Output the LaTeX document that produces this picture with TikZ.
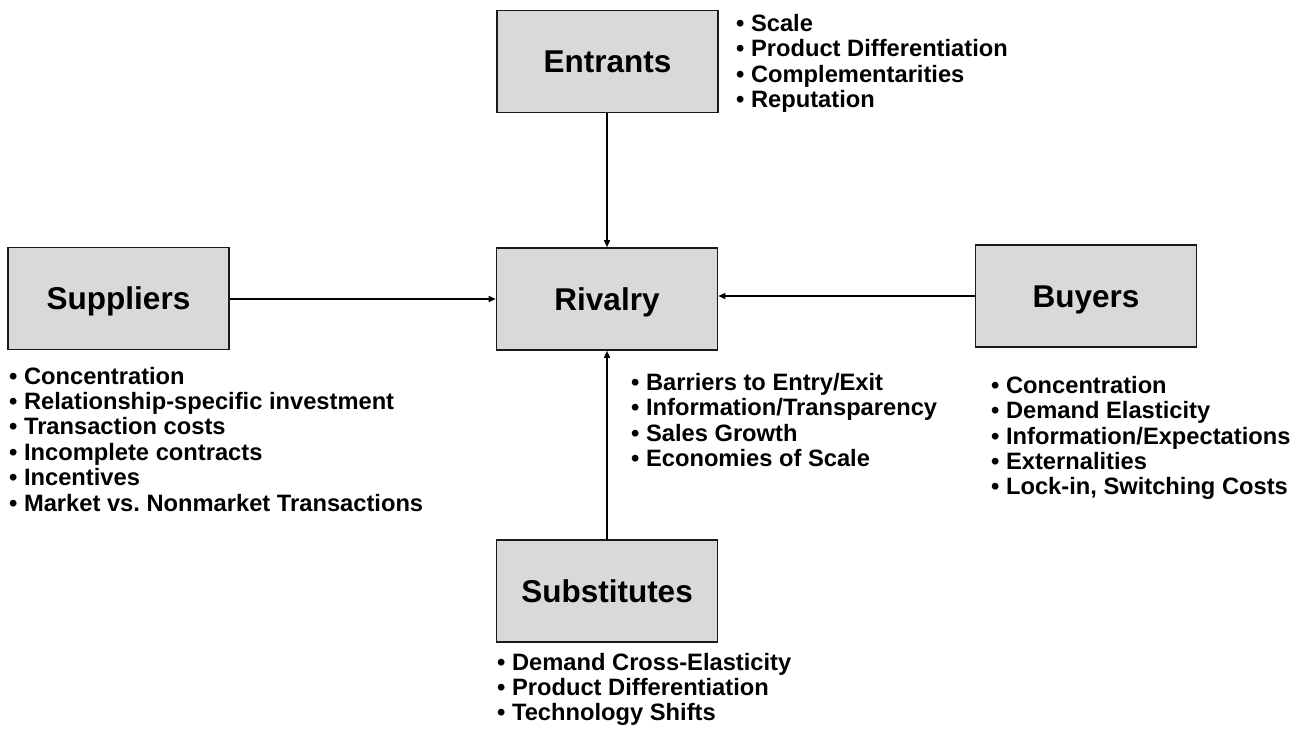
\documentclass[tikz,border=0pt]{standalone}
\usepackage{fontspec}
\setmainfont{Liberation Sans}
\usetikzlibrary{arrows.meta}
\definecolor{boxfill}{HTML}{D9D9D9}
\definecolor{boxline}{HTML}{1A1A1A}
\frenchspacing
\tikzset{
  force/.style={draw=boxline, line width=1.6pt, fill=boxfill, minimum width=221pt, minimum height=102pt, inner sep=0pt, text height=22.6pt, text depth=0pt, font=\fontsize{31.5}{34}\selectfont\bfseries},
  bullets/.style={anchor=base west, inner sep=0pt, align=left, font=\fontsize{23.7}{25.4}\selectfont\bfseries},
  link/.style={line width=1.5pt, -{Triangle[length=7pt,width=6pt]}}
}
\begin{document}
\begin{tikzpicture}[x=1pt,y=-1pt]
\useasboundingbox (0,0) rectangle (1306,731);
\node[force] (entrants) at (607.5,61.5) {Entrants};
\node[force] (rivalry) at (607,299) {Rivalry};
\node[force] (suppliers) at (118.5,298.5) {Suppliers};
\node[force] (buyers) at (1086,296) {Buyers};
\node[force] (substitutes) at (607,591) {Substitutes};

\draw[link] (entrants.south -| rivalry.north) -- (rivalry.north);
\draw[link] (suppliers.east |- rivalry.west) -- (rivalry.west);
\draw[link] (buyers.west) -- (buyers.west -| rivalry.east);
\draw[link] (substitutes.north) -- (rivalry.south);

% anchors are at the baseline of each list's last line
\node[bullets] (entrantslist) at (736,107.5) {• Scale\\• Product Differentiation\\• Complementarities\\• Reputation};
\node[bullets] (supplierslist) at (9,511) {• Concentration\\• Relationship-specific investment\\• Transaction costs\\• Incomplete contracts\\• Incentives\\• Market vs. Nonmarket Transactions};
\node[bullets] (rivalrylist) at (631,466.7) {• Barriers to Entry/Exit\\• Information/Transparency\\• Sales Growth\\• Economies of Scale};
\node[bullets] (buyerslist) at (991,494.8) {• Concentration\\• Demand Elasticity\\• Information/Expectations\\• Externalities\\• Lock-in, Switching Costs};
\node[bullets] (substituteslist) at (497,720.8) {• Demand Cross-Elasticity\\• Product Differentiation\\• Technology Shifts};
\end{tikzpicture}
\end{document}
